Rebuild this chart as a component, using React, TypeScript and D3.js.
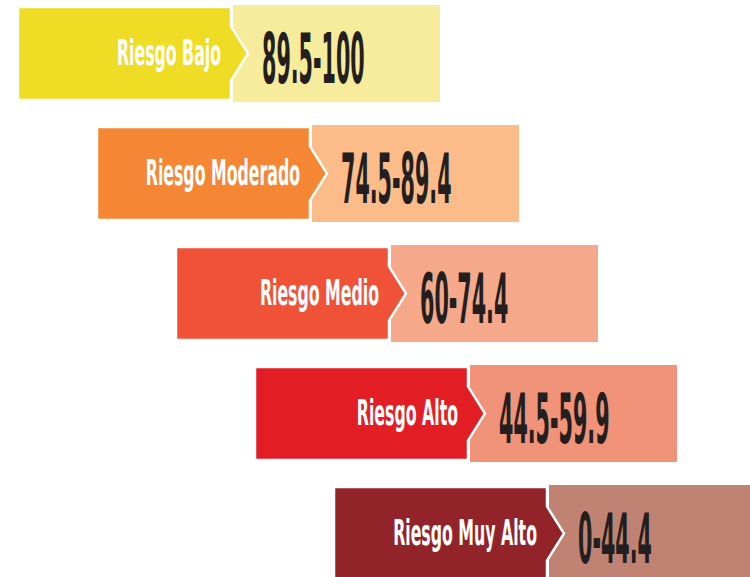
import React from "react";
import * as d3 from "d3";

const categories = ["Riesgo Bajo", "Riesgo Moderado", "Riesgo Medio", "Riesgo Alto", "Riesgo Muy Alto"];
const ranges = ["89.5-100", "74.5-89.4", "60-74.4", "44.5-59.9", "0-44.4"];
const darkColors = ["#EFDC24", "#F58634", "#F05237", "#E21D24", "#922429"];
const lightColors = ["#F7EC9B", "#FBBC8A", "#F6A98A", "#F09378", "#C08373"];

const W = 750;
const H = 577;
const darkW = 213;
const darkH = 93;
const lightW = 207;
const gap = 2;
const tipW = 17;
const tipHalf = 27;

const labelSize = 36;
const labelScale = 0.487;
const valueSize = 69;
const valueScale = 0.333;

export default function App() {
  const idx = d3.range(categories.length);
  const x = d3.scaleLinear().domain([0, categories.length - 1]).range([18, 334]);
  const y = d3.scaleLinear().domain([0, categories.length - 1]).range([7, 487]);

  return (
    <svg width={W} height={H} style={{ position: "absolute", left: 0, top: 0, background: "#fff" }}>
      {idx.map((i) => {
        const x0 = x(i);
        const y0 = y(i);
        const xr = x0 + darkW;
        const cy = y0 + darkH / 2;
        const path = d3.path();
        path.moveTo(x0, y0);
        path.lineTo(xr, y0);
        path.lineTo(xr, cy - tipHalf);
        path.lineTo(xr + tipW, cy);
        path.lineTo(xr, cy + tipHalf);
        path.lineTo(xr, y0 + darkH);
        path.lineTo(x0, y0 + darkH);
        path.closePath();
        return (
          <g key={i}>
            <rect x={xr + gap} y={y0 - 2} width={lightW} height={darkH + 4} fill={lightColors[i]} />
            <path d={path.toString()} fill={darkColors[i]} stroke="#fff" strokeWidth={2.5} strokeLinejoin="miter" />
            <text
              transform={`translate(${xr - 10},${cy + 11.5}) scale(${labelScale},1)`}
              textAnchor="end"
              fontFamily="'DejaVu Sans Condensed', 'DejaVu Sans', sans-serif"
              fontWeight="bold"
              fontSize={labelSize}
              fill="#fff"
            >
              {categories[i]}
            </text>
            <text
              transform={`translate(${xr + 31},${cy + 29}) scale(${valueScale},1)`}
              textAnchor="start"
              fontFamily="'DejaVu Sans Condensed', 'DejaVu Sans', sans-serif"
              fontWeight="bold"
              fontSize={valueSize}
              fill="#231F20"
            >
              {ranges[i]}
            </text>
          </g>
        );
      })}
    </svg>
  );
}
